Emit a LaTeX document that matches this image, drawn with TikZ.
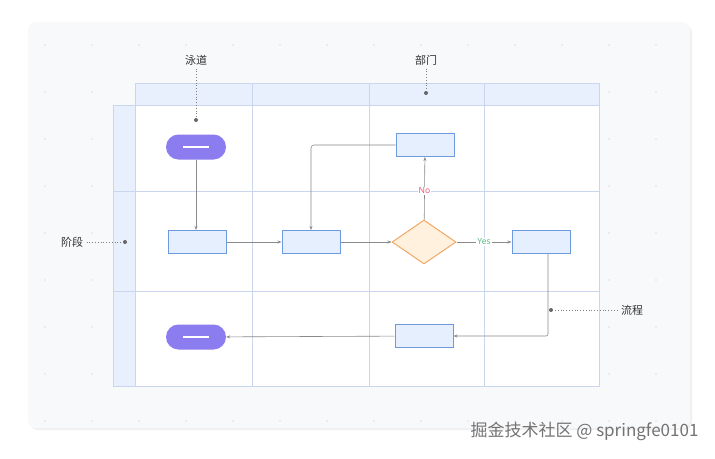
\documentclass[tikz,border=0pt]{standalone}
\usepackage{fontspec}
\setmainfont{Noto Sans}
\newfontfamily\cjk{Noto Sans CJK SC}
\usetikzlibrary{shapes.geometric,arrows.meta}
\definecolor{lane}{HTML}{E8F0FE}
\definecolor{laneb}{HTML}{C9D6EE}
\definecolor{boxb}{HTML}{6E9BE0}
\definecolor{boxf}{HTML}{E6EFFD}
\definecolor{purp}{HTML}{8B7CF0}
\definecolor{dia}{HTML}{FFF1DE}
\definecolor{diab}{HTML}{F0A865}
\definecolor{ln}{HTML}{8A8A8A}
\definecolor{card}{HTML}{F8F9FB}
\begin{document}
\begin{tikzpicture}[x=1pt,y=-1pt,
  box/.style={draw=boxb,fill=boxf,line width=1pt,minimum width=58pt,minimum height=23pt,inner sep=0},
  term/.style={fill=purp,rounded corners=12.5pt,minimum width=60pt,minimum height=25pt,inner sep=0,
    path picture={\draw[white,line width=1.6pt] ([xshift=-13pt]path picture bounding box.center)--([xshift=13pt]path picture bounding box.center);}},
  arr/.style={draw=ln,line width=0.6pt,-{Stealth[length=4pt,width=3pt]}},
  note/.style={font=\cjk\fontsize{11}{13}\selectfont,text=black!80},
  elab/.style={fill=white,font=\fontsize{8.5}{10}\selectfont,inner sep=1pt},
  dot/.style={circle,fill=black!60,inner sep=0,minimum size=4pt},
  lead/.style={draw=black!50,dotted,line width=0.8pt}]
\useasboundingbox (0,0) rectangle (715,458);
\fill[white] (0,0) rectangle (715,458);
\fill[black!6,rounded corners=8pt] (30,25) rectangle (692,430);
\fill[card,rounded corners=8pt] (28,22) rectangle (690,428);
\foreach \i in {0,...,13} \foreach \j in {0,...,8}
  \fill[black!12] (45+\i*47,45+\j*47) circle (0.8pt);
% lanes
\fill[white] (135,105) rectangle (599,386);
\draw[laneb,fill=lane] (135,83) rectangle (599,105);
\draw[laneb,fill=lane] (113,105) rectangle (135,386);
\draw[laneb] (135,105) rectangle (599,386);
\foreach \x in {252,369,484} \draw[laneb] (\x,83) -- (\x,386);
\foreach \y in {191,291} \draw[laneb] (113,\y) -- (599,\y);
% nodes
\node[term] (s) at (196,147) {};
\node[box] (b1) at (197,242) {};
\node[box] (b2) at (311,242) {};
\node[diamond,draw=diab,fill=dia,line width=1pt,minimum width=64pt,minimum height=44pt,inner sep=0,aspect=1.45] (d) at (424,242) {};
\node[box] (yb) at (541,242) {};
\node[box] (nb) at (425,145) {};
\node[box] (bb) at (424,336) {};
\node[term] (e) at (196,337) {};
% edges
\draw[arr] (s) -- (b1.north -| s);
\draw[arr] (b1) -- (b2);
\draw[arr] (b2) -- (d);
\draw[arr] (d) -- node[elab,text={rgb,255:red,80;green,190;blue,130},pos=0.5]{Yes} (yb);
\draw[arr] (d) -- node[elab,text={rgb,255:red,235;green,90;blue,120},pos=0.46]{No} (nb);
\draw[arr,rounded corners=3pt] (nb.west) -| (b2.north);
\draw[arr,rounded corners=2pt] ([xshift=7pt]yb.south) |- (bb.east);
\draw[arr] (bb) -- (e);
% annotations
\node[note] (l1) at (196,60) {泳道};
\node[dot] (p1) at (196,120) {};
\draw[lead] (l1) -- (p1);
\node[note] (l2) at (426,60) {部门};
\node[dot] (p2) at (426,93) {};
\draw[lead] (l2) -- (p2);
\node[note] (l3) at (72,242) {阶段};
\node[dot] (p3) at (125,242) {};
\draw[lead] (l3) -- (p3);
\node[note] (l4) at (632,310) {流程};
\node[dot] (p4) at (551,310) {};
\draw[lead] (l4) -- (p4);
\node[font=\cjk\fontsize{17}{20}\selectfont,text=black!55,anchor=east] (wm) at (702,431) {掘金技术社区 @ springfe0101};
\end{tikzpicture}
\end{document}
